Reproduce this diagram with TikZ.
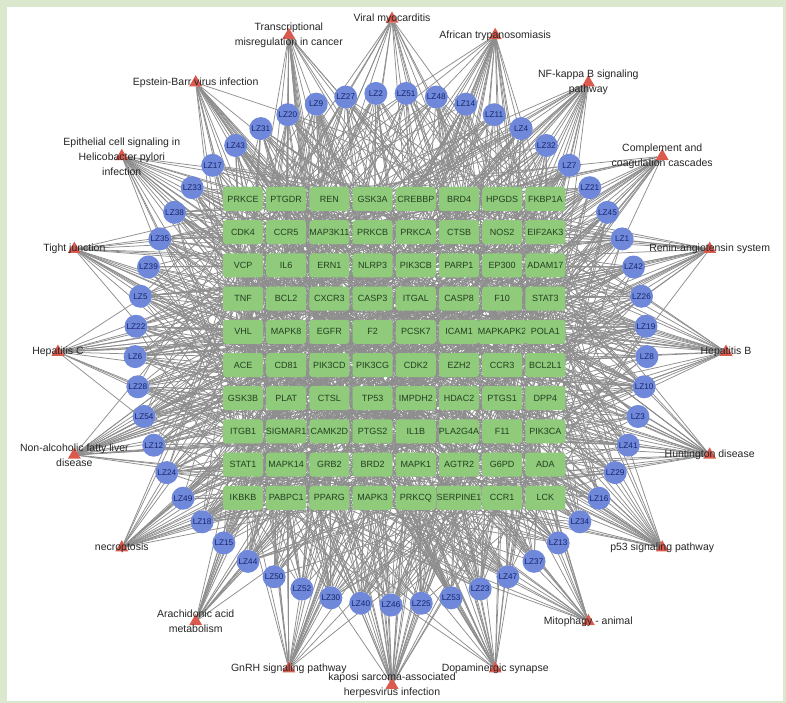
\documentclass[tikz,border=0pt]{standalone}
\usepackage{fontspec}
\setmainfont{Liberation Sans}
\usetikzlibrary{shapes.geometric}
\pgfdeclarelayer{frame}
\pgfdeclarelayer{edges}
\pgfsetlayers{frame,edges,main}

\definecolor{framegreen}{HTML}{DCE8CD}
\definecolor{targetfill}{HTML}{8FCB7B}
\definecolor{targettext}{HTML}{253F22}
\definecolor{compfill}{HTML}{6F88D9}
\definecolor{comptext}{HTML}{18256E}
\definecolor{pathfill}{HTML}{DB5A4E}
\definecolor{edgegray}{HTML}{8E8E8E}

\begin{document}
\begin{tikzpicture}[x=1pt,y=-1pt,
  target/.style={fill=targetfill, rounded corners=3pt, minimum width=40pt,
    minimum height=24pt, inner sep=0pt, text=targettext,
    font=\fontsize{9}{10}\selectfont},
  compound/.style={circle, fill=compfill, minimum size=23pt, inner sep=0pt,
    text=comptext, font=\fontsize{8.2}{9}\selectfont},
  pathway/.style={regular polygon, regular polygon sides=3, fill=pathfill,
    minimum size=15pt, inner sep=0pt},
  pathlabel/.style={align=center, font=\fontsize{10.5}{15}\selectfont,
    text=black!85, inner sep=0pt},
  edge/.style={draw=edgegray, line width=0.75pt}]

\useasboundingbox (0,0) rectangle (786,703);
\begin{pgfonlayer}{frame}
  \fill[framegreen] (0,0) rectangle (786,703);
  \fill[white] (7,7) rectangle (783,701);
\end{pgfonlayer}

% target genes: 10 x 8 grid
\foreach \name [count=\i from 0] in {
  PRKCE,PTGDR,REN,GSK3A,CREBBP,BRD4,HPGDS,FKBP1A,
  CDK4,CCR5,MAP3K11,PRKCB,PRKCA,CTSB,NOS2,EIF2AK3,
  VCP,IL6,ERN1,NLRP3,PIK3CB,PARP1,EP300,ADAM17,
  TNF,BCL2,CXCR3,CASP3,ITGAL,CASP8,F10,STAT3,
  VHL,MAPK8,EGFR,F2,PCSK7,ICAM1,MAPKAPK2,POLA1,
  ACE,CD81,PIK3CD,PIK3CG,CDK2,EZH2,CCR3,BCL2L1,
  GSK3B,PLAT,CTSL,TP53,IMPDH2,HDAC2,PTGS1,DPP4,
  ITGB1,SIGMAR1,CAMK2D,PTGS2,IL1B,PLA2G4A,F11,PIK3CA,
  STAT1,MAPK14,GRB2,BRD2,MAPK1,AGTR2,G6PD,ADA,
  IKBKB,PABPC1,PPARG,MAPK3,PRKCQ,SERPINE1,CCR1,LCK}{
  \pgfmathtruncatemacro\row{int(\i/8)}
  \pgfmathtruncatemacro\col{mod(\i,8)}
  \node[target] (t\i) at ({243+43.2*\col},{199+33.2*\row}) {\name};
}

% compounds on a ring (53 evenly spaced)
\foreach \name [count=\i from 0] in {
  LZ46,LZ40,LZ30,LZ52,LZ50,LZ44,LZ15,LZ18,LZ49,LZ24,LZ12,LZ54,LZ28,LZ6,
  LZ22,LZ5,LZ39,LZ35,LZ38,LZ33,LZ17,LZ43,LZ31,LZ20,LZ9,LZ27,LZ2,LZ51,
  LZ48,LZ14,LZ11,LZ4,LZ32,LZ7,LZ21,LZ45,LZ1,LZ42,LZ26,LZ19,LZ8,LZ10,
  LZ3,LZ41,LZ29,LZ16,LZ34,LZ13,LZ37,LZ47,LZ23,LZ53,LZ25}{
  \pgfmathsetmacro\ang{90+6.79245*\i}
  \node[compound] (c\i) at ({391+256*cos(\ang)},{349+256*sin(\ang)}) {\name};
}

% pathways on the outer ring
\foreach \lab [count=\i from 0] in {
  {Hepatitis B},{Huntington disease},{p53 signaling pathway},
  {Mitophagy - animal},{Dopaminergic synapse},
  {kaposi sarcoma-associated\\herpesvirus infection},
  {GnRH signaling pathway},{Arachidonic acid\\metabolism},{necroptosis},
  {Non-alcoholic fatty liver\\disease},{Hepatitis C},{Tight junction},
  {Epithelial cell signaling in\\Helicobacter pylori\\infection},
  {Epstein-Barr virus infection},{Transcriptional\\misregulation in cancer},
  {Viral myocarditis},{African trypanosomiasis},
  {NF-kappa B signaling\\pathway},{Complement and\\coagulation cascades},
  {Renin-angiotensin system}}{
  \pgfmathsetmacro\ang{18*\i}
  \node[pathway] (p\i) at ({392+334*cos(\ang)},{352+333*sin(\ang)}) {};
  \node[pathlabel] (pl\i) at (p\i.center) {\lab};
}

% interactions
\pgfmathsetseed{2024}
\begin{pgfonlayer}{edges}
  \foreach \p in {0,...,19}{
    \foreach \t in {0,...,79}{
      \pgfmathsetmacro\rr{rnd}
      \ifdim\rr pt<0.28pt \draw[edge] (p\p) -- (t\t); \fi
    }
  }
  \foreach \c in {0,...,52}{
    \foreach \t in {0,...,79}{
      \pgfmathsetmacro\rr{rnd}
      \ifdim\rr pt<0.2pt \draw[edge] (c\c) -- (t\t); \fi
    }
  }
\end{pgfonlayer}
\end{tikzpicture}
\end{document}
